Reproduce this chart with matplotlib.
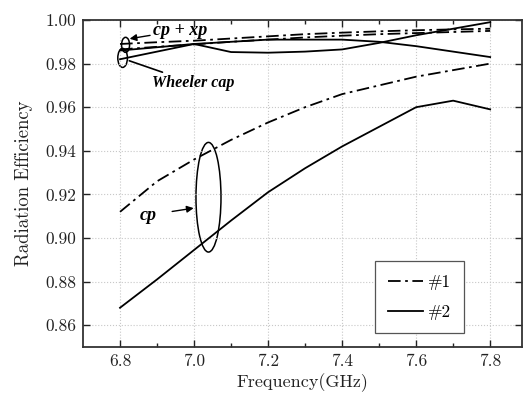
import matplotlib
matplotlib.use("Agg")
import matplotlib.pyplot as plt
from matplotlib.patches import Ellipse

freq = [6.8, 6.9, 7.0, 7.1, 7.2, 7.3, 7.4, 7.5, 7.6, 7.7, 7.8]

# cp curves
cp_1 = [0.912, 0.926, 0.936, 0.945, 0.953, 0.960, 0.966, 0.970, 0.974, 0.977, 0.980]
cp_2 = [0.868, 0.881, 0.8945, 0.908, 0.921, 0.932, 0.942, 0.951, 0.960, 0.963, 0.959]
# cp+xp curves
cpxp_1 = [0.989, 0.9898, 0.9905, 0.9915, 0.9925, 0.9935, 0.9942, 0.9948, 0.9953, 0.9957, 0.996]
cpxp_2 = [0.986, 0.9875, 0.989, 0.990, 0.991, 0.991, 0.991, 0.990, 0.988, 0.9855, 0.983]
# Wheeler cap curves
wh_1 = [0.9865, 0.9877, 0.9888, 0.990, 0.991, 0.992, 0.9928, 0.9935, 0.994, 0.9945, 0.995]
wh_2 = [0.982, 0.9855, 0.989, 0.9853, 0.985, 0.9855, 0.9865, 0.9895, 0.993, 0.996, 0.999]

xticks = [6.8, 7.0, 7.2, 7.4, 7.6, 7.8]
yticks = [0.86, 0.88, 0.90, 0.92, 0.94, 0.96, 0.98, 1.00]
series_labels = ["#1", "#2"]

plt.rcParams['font.family'] = ['cmr10', 'DejaVu Serif']
plt.rcParams['mathtext.fontset'] = 'cm'
plt.rcParams['axes.formatter.use_mathtext'] = True

fig = plt.figure(figsize=(5.23, 3.94), dpi=100)
ax = fig.add_axes([83/523, 1-347/394, 439/523, 327/394])

dd = (7, 2.5, 1.5, 2.5)
lw = 1.3
l1, = ax.plot(freq, cp_1, color='black', lw=lw, dashes=dd)
l2, = ax.plot(freq, cp_2, color='black', lw=lw)
ax.plot(freq, cpxp_1, color='black', lw=lw, dashes=dd)
ax.plot(freq, cpxp_2, color='black', lw=lw)
ax.plot(freq, wh_1, color='black', lw=lw, dashes=dd)
ax.plot(freq, wh_2, color='black', lw=lw)

ax.set_xlim(6.7, 7.886)
ax.set_ylim(0.85, 1.00)
ax.set_xticks(xticks)
ax.set_xticklabels([f"{t:.1f}" for t in xticks])
ax.set_xticks([6.9, 7.1, 7.3, 7.5, 7.7], minor=True)
ax.set_yticks(yticks)
ax.set_yticklabels([f"{t:.2f}" for t in yticks])
ax.tick_params(axis='both', which='both', direction='in', top=True, right=True,
               labelsize=12.5, color='#222222', labelcolor='#222222')
ax.tick_params(which='major', length=5, width=1, pad=5)
ax.tick_params(which='minor', length=3, width=1)
ax.grid(True, which='major', linestyle=':', color='#c8c8c8', lw=0.8)
for s in ax.spines.values():
    s.set_color('#333333')
    s.set_linewidth(1.3)

ax.set_xlabel("Frequency(GHz)", fontsize=13, labelpad=3, color='#222222')
ax.set_ylabel("Radiation Efficiency", fontsize=13.5, labelpad=9, color='#222222')

# ellipses
ax.add_patch(Ellipse((7.039, 0.9187), 0.0676, 0.0503, fill=False, ec='black', lw=1.1))
ax.add_patch(Ellipse((6.815, 0.9886), 0.0216, 0.0069, fill=False, ec='black', lw=1.1))
ax.add_patch(Ellipse((6.807, 0.9826), 0.026, 0.0087, fill=False, ec='black', lw=1.1))

anno_font = dict(family=['Liberation Serif'], style='italic', weight='bold', fontsize=13)
ax.annotate("cp", xy=(6.999, 0.9137), xytext=(6.877, 0.9105),
            ha='center', va='center', **anno_font,
            arrowprops=dict(arrowstyle='-|>', color='black', lw=1.0, mutation_scale=10,
                            shrinkA=9, shrinkB=0))
ax.annotate("cp + xp", xy=(6.826, 0.9914), xytext=(6.962, 0.9952),
            ha='center', va='center', **anno_font,
            arrowprops=dict(arrowstyle='-|>', color='black', lw=1.0, mutation_scale=10,
                            shrinkA=24, shrinkB=0))
wf = dict(anno_font)
wf['fontsize'] = 11.5
ax.annotate("Wheeler cap", xy=(6.825, 0.9813), xytext=(6.999, 0.9711),
            ha='center', va='center', **wf,
            arrowprops=dict(arrowstyle='-', color='black', lw=1.2,
                            shrinkA=38, shrinkB=0))

leg = ax.legend([l1, l2], series_labels, loc='lower left', bbox_to_anchor=(0.665, 0.043),
                borderaxespad=0, fancybox=False, edgecolor='#555555', fontsize=12.5,
                handlelength=2.0, handletextpad=0.3, labelspacing=0.85, borderpad=0.75,
                framealpha=1)
leg.get_frame().set_linewidth(0.9)

fig.savefig("out.png", dpi=100)
